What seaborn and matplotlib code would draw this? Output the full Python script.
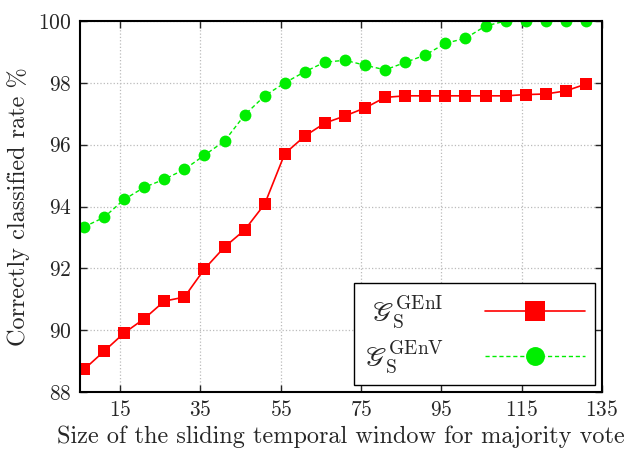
import numpy as np
import pandas as pd
import seaborn as sns
import matplotlib.pyplot as plt

window = list(range(6, 132, 5))
genI = [88.73, 89.32, 89.91, 90.37, 90.94, 91.07, 91.98, 92.69, 93.24, 94.08,
        95.71, 96.28, 96.70, 96.93, 97.19, 97.53, 97.58, 97.58, 97.58, 97.58,
        97.58, 97.58, 97.62, 97.64, 97.74, 97.96]
genV = [93.34, 93.65, 94.23, 94.62, 94.88, 95.20, 95.66, 96.12, 96.96, 97.58,
        98.00, 98.36, 98.67, 98.73, 98.57, 98.42, 98.66, 98.90, 99.28, 99.44,
        99.84, 100.0, 100.0, 100.0, 100.0, 100.0]
xticks = [15, 35, 55, 75, 95, 115, 135]
yticks = [88, 90, 92, 94, 96, 98, 100]

df = pd.DataFrame({'window': window, 'genI': genI, 'genV': genV})

sns.set_style('ticks')
plt.rcParams['font.family'] = ['cmr10', 'DejaVu Serif']
plt.rcParams['mathtext.fontset'] = 'cm'
plt.rcParams['axes.formatter.use_mathtext'] = True

fig = plt.figure(figsize=(6.28, 4.5), dpi=100)
ax = fig.add_axes([0.1274, 0.1289, 0.8312, 0.8244])

sns.lineplot(data=df, x='window', y='genI', ax=ax, color='#ff0000', marker='s',
             markersize=9, markeredgewidth=0, linewidth=1.2,
             label=r'$\mathscr{G}_{\rm S}^{\rm GEnI}$')
sns.lineplot(data=df, x='window', y='genV', ax=ax, color='#00ee00', marker='o',
             markersize=8.5, markeredgewidth=0, linewidth=1.0, linestyle=(0, (3, 2)),
             label=r'$\mathscr{G}_{\rm S}^{\rm GEnV}$')

ax.set_xlim(5, 135)
ax.set_ylim(88, 100)
ax.set_xticks(xticks)
ax.set_yticks(yticks)
ax.grid(True, linestyle=':', color='#bbbbbb', linewidth=0.9)
ax.tick_params(direction='in', top=True, right=True, length=5, labelsize=15.5, width=1, pad=6)
for s in ax.spines.values():
    s.set_linewidth(1.5)
    s.set_color('black')
ax.set_xlabel('Size of the sliding temporal window for majority vote', fontsize=17.5, labelpad=4)
ax.set_ylabel('Correctly classified rate %', fontsize=17.5, labelpad=6)

leg = ax.legend(loc='lower right', bbox_to_anchor=(0.987, 0.019), borderaxespad=0,
                fancybox=False, edgecolor='black', framealpha=1, markerfirst=False,
                handlelength=3.6, markerscale=1.6, fontsize=20, borderpad=0.35,
                labelspacing=0.3, handletextpad=1.5)
leg.get_frame().set_linewidth(1.0)

plt.savefig('out.png', dpi=100)
